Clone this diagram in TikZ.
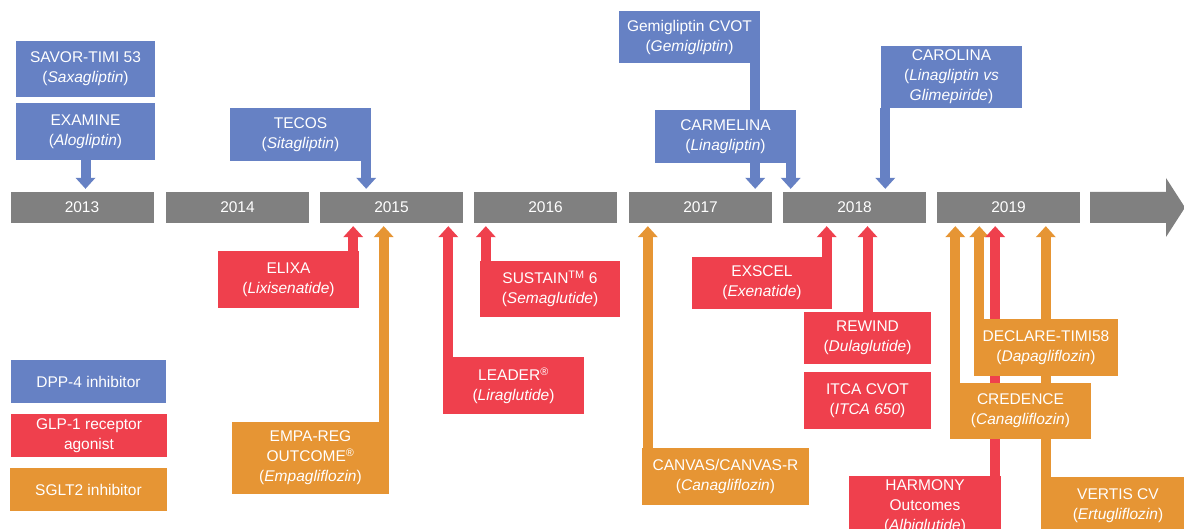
\documentclass[tikz,border=0pt]{standalone}
\usepackage{fontspec}
\setmainfont{Liberation Sans}
\usetikzlibrary{arrows.meta}
\definecolor{dppblue}{RGB}{102,129,196}
\definecolor{glpred}{RGB}{239,64,77}
\definecolor{sgltorange}{RGB}{230,149,52}
\definecolor{yeargrey}{RGB}{128,128,128}
\pgfdeclarelayer{bg}
\pgfdeclarelayer{arr}
\pgfsetlayers{bg,arr,main}
\tikzset{
  box/.style={fill=#1, text=white, align=center, inner sep=0pt,
    font=\fontsize{15.5}{20}\selectfont},
  yearbox/.style={box=yeargrey, minimum width=143pt, minimum height=31pt},
  blk/.style={draw=#1, line width=10pt, shorten >=3pt,
    -{Triangle[length=11pt,width=20pt,line width=0pt]}},
}
\begin{document}
\begin{tikzpicture}[x=1pt,y=-1pt]
\useasboundingbox (0,0) rectangle (1184,529);
\clip (0,0) rectangle (1184,529);
\begin{pgfonlayer}{bg}
\fill[white] (0,0) rectangle (1184,529);
\end{pgfonlayer}

% timeline
\node[yearbox] (y2013) at (82,207.5) {2013};
\node[yearbox] (y2014) at (237.5,207.5) {2014};
\node[yearbox] (y2015) at (391.5,207.5) {2015};
\node[yearbox] (y2016) at (545.5,207.5) {2016};
\node[yearbox] (y2017) at (700.5,207.5) {2017};
\node[yearbox] (y2018) at (854.5,207.5) {2018};
\node[yearbox] (y2019) at (1008.5,207.5) {2019};
\fill[yeargrey] (1090,192) -- (1166,192) -- (1166,178) -- (1185,207.5)
  -- (1166,237) -- (1166,223) -- (1090,223) -- cycle;

% DPP-4 (top)
\node[box=dppblue, minimum width=139pt, minimum height=56pt] (savor) at (85.5,69) {SAVOR-TIMI 53\\(\textit{Saxagliptin})};
\node[box=dppblue, minimum width=139pt, minimum height=57pt] (examine) at (85.5,131.5) {EXAMINE\\(\textit{Alogliptin})};
\node[box=dppblue, minimum width=141pt, minimum height=53pt] (tecos) at (300.5,134.5) {TECOS\\(\textit{Sitagliptin})};
\node[box=dppblue, minimum width=141pt, minimum height=52pt] (gemi) at (689.5,37) {Gemigliptin CVOT\\(\textit{Gemigliptin})};
\node[box=dppblue, minimum width=141pt, minimum height=53pt] (carmelina) at (725.5,136.5) {CARMELINA\\(\textit{Linagliptin})};
\node[box=dppblue, minimum width=141pt, minimum height=62pt] (carolina) at (951.5,77) {CAROLINA\\(\textit{Linagliptin vs}\\\textit{Glimepiride})};

% GLP-1 and SGLT2 (bottom)
\node[box=glpred, minimum width=141pt, minimum height=57pt] (elixa) at (288.5,279.5) {ELIXA\\(\textit{Lixisenatide})};
\node[box=sgltorange, minimum width=157pt, minimum height=72pt] (empa) at (310.5,458) {EMPA-REG\\OUTCOME\textsuperscript{®}\\(\textit{Empagliflozin})};
\node[box=glpred, minimum width=141pt, minimum height=57pt] (leader) at (513.5,385.5) {LEADER\textsuperscript{®}\\(\textit{Liraglutide})};
\node[box=glpred, minimum width=140pt, minimum height=56pt] (sustain) at (550,289) {SUSTAIN\textsuperscript{TM} 6\\(\textit{Semaglutide})};
\node[box=sgltorange, minimum width=167pt, minimum height=57pt] (canvas) at (725.5,476.5) {CANVAS/CANVAS-R\\(\textit{Canagliflozin})};
\node[box=glpred, minimum width=140pt, minimum height=52pt] (exscel) at (762,283) {EXSCEL\\(\textit{Exenatide})};
\node[box=glpred, minimum width=127pt, minimum height=52pt] (rewind) at (867.5,338) {REWIND\\(\textit{Dulaglutide})};
\node[box=glpred, minimum width=127pt, minimum height=57pt] (itca) at (867.5,400.5) {ITCA CVOT\\(\textit{ITCA 650})};
\node[box=sgltorange, minimum width=144pt, minimum height=57pt] (declare) at (1046,347.5) {DECLARE-TIMI58\\(\textit{Dapagliflozin})};
\node[box=sgltorange, minimum width=141pt, minimum height=56pt] (credence) at (1020.5,411) {CREDENCE\\(\textit{Canagliflozin})};
\node[box=glpred, minimum width=152pt, minimum height=61pt] (harmony) at (925,506.5) {HARMONY\\Outcomes\\(\textit{Albiglutide})};
\node[box=sgltorange, minimum width=154pt, minimum height=58pt] (vertis) at (1118,506) {VERTIS CV\\(\textit{Ertugliflozin})};

% legend
\node[box=dppblue, minimum width=155pt, minimum height=43pt] (lgdpp) at (88.5,381.5) {DPP-4 inhibitor};
\node[box=glpred, minimum width=156pt, minimum height=43pt] (lgglp) at (89,435.5) {GLP-1 receptor\\agonist};
\node[box=sgltorange, minimum width=157pt, minimum height=43pt] (lgsglt) at (88.5,489.5) {SGLT2 inhibitor};

% arrow start points
\coordinate (aexamine) at (examine.south);
\coordinate (atecos) at ([xshift=-5pt]tecos.south east);
\coordinate (agemi) at ([xshift=-5pt]gemi.south east);
\coordinate (acarmelina) at ([xshift=-5.5pt]carmelina.south east);
\coordinate (acarolina) at ([xshift=4.5pt]carolina.south west);
\coordinate (aelixa) at ([xshift=-6pt]elixa.north east);
\coordinate (aempa) at ([xshift=-5.5pt]empa.north east);
\coordinate (aleader) at ([xshift=5.5pt]leader.north west);
\coordinate (asustain) at ([xshift=6pt]sustain.north west);
\coordinate (acanvas) at ([xshift=6pt]canvas.north west);
\coordinate (aexscel) at ([xshift=-5.5pt]exscel.north east);
\coordinate (arewind) at (rewind.north);
\coordinate (acredence) at ([xshift=5.5pt]credence.north west);
\coordinate (adeclare) at ([xshift=5.5pt]declare.north west);
\coordinate (aharmony) at ([xshift=-6pt]harmony.north east);
\coordinate (avertis) at ([xshift=5pt]vertis.north west);

\begin{pgfonlayer}{arr}
\draw[blk=dppblue] (aexamine) -- (aexamine |- y2013.north);
\draw[blk=dppblue] (atecos) -- (atecos |- y2015.north);
\draw[blk=dppblue] (agemi) -- (agemi |- y2017.north);
\draw[blk=dppblue] (acarmelina) -- (acarmelina |- y2018.north);
\draw[blk=dppblue] (acarolina) -- (acarolina |- y2018.north);
\draw[blk=sgltorange] (aempa) -- (aempa |- y2015.south);
\draw[blk=sgltorange] (acanvas) -- (acanvas |- y2017.south);
\draw[blk=sgltorange] (acredence) -- (acredence |- y2019.south);
\draw[blk=sgltorange] (adeclare) -- (adeclare |- y2019.south);
\draw[blk=sgltorange] (avertis) -- (avertis |- y2019.south);
\draw[blk=glpred] (aelixa) -- (aelixa |- y2015.south);
\draw[blk=glpred] (aleader) -- (aleader |- y2015.south);
\draw[blk=glpred] (asustain) -- (asustain |- y2016.south);
\draw[blk=glpred] (aexscel) -- (aexscel |- y2018.south);
\draw[blk=glpred] (arewind) -- (arewind |- y2018.south);
\draw[blk=glpred] (aharmony) -- (aharmony |- y2019.south);
\end{pgfonlayer}
\end{tikzpicture}
\end{document}
